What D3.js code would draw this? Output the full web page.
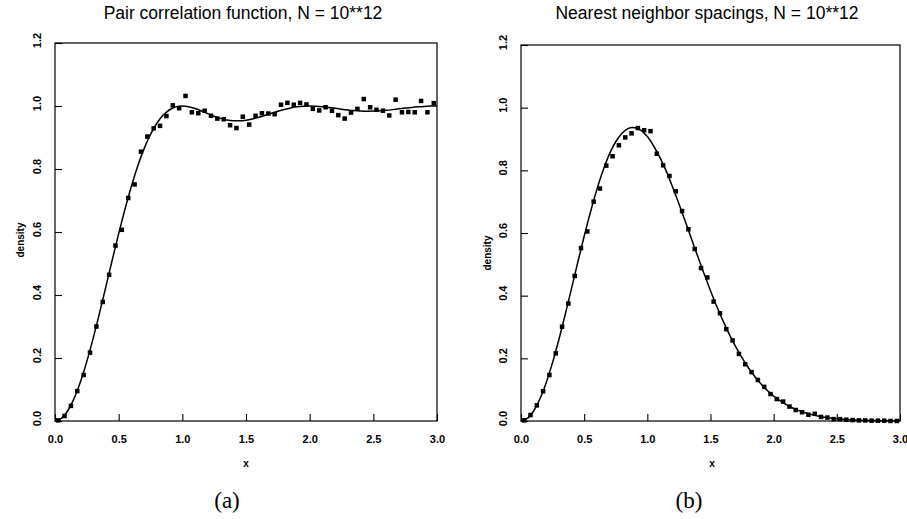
<!DOCTYPE html>
<html>
<head>
<meta charset="utf-8">
<script src="https://d3js.org/d3.v7.min.js"></script>
<style>
body { margin: 0; background: #fff; }
</style>
</head>
<body>
<svg id="chart" width="907" height="519"></svg>
<script>
// bin centres of the histograms (both panels)
const binX = [0.025,0.075,0.125,0.175,0.225,0.275,0.325,0.375,0.425,0.475,
  0.525,0.575,0.625,0.675,0.725,0.775,0.825,0.875,0.925,0.975,
  1.025,1.075,1.125,1.175,1.225,1.275,1.325,1.375,1.425,1.475,
  1.525,1.575,1.625,1.675,1.725,1.775,1.825,1.875,1.925,1.975,
  2.025,2.075,2.125,2.175,2.225,2.275,2.325,2.375,2.425,2.475,
  2.525,2.575,2.625,2.675,2.725,2.775,2.825,2.875,2.925,2.975];

// (a) pair correlation, empirical
const pairY = [0.002,0.016,0.048,0.095,0.146,0.217,0.300,0.378,0.464,0.557,
  0.607,0.708,0.751,0.855,0.903,0.929,0.937,0.968,1.002,0.993,
  1.032,0.980,0.977,0.985,0.969,0.960,0.958,0.939,0.930,0.966,
  0.941,0.969,0.977,0.976,0.974,1.004,1.010,1.004,1.010,1.005,
  0.991,0.986,0.996,0.985,0.971,0.960,0.979,0.991,1.022,0.996,
  0.988,0.985,0.970,1.020,0.980,0.981,0.980,1.016,0.980,1.009];

// (b) nearest neighbor spacings, empirical
const nnY = [0.002,0.019,0.050,0.095,0.147,0.216,0.301,0.375,0.463,0.552,
  0.605,0.700,0.742,0.815,0.845,0.880,0.905,0.918,0.935,0.928,
  0.925,0.853,0.816,0.782,0.733,0.670,0.612,0.549,0.488,0.458,
  0.381,0.344,0.293,0.257,0.214,0.181,0.156,0.131,0.109,0.086,
  0.070,0.062,0.046,0.035,0.028,0.020,0.023,0.013,0.011,0.006,
  0.006,0.004,0.003,0.002,0.002,0.001,0.001,0.001,0.000,0.000];

// x positions of the smooth curves
const curveX = [0,0.05,0.1,0.15,0.2,0.25,0.3,0.35,0.4,0.45,
  0.5,0.55,0.6,0.65,0.7,0.75,0.8,0.85,0.9,0.95,
  1.0,1.05,1.1,1.15,1.2,1.25,1.3,1.35,1.4,1.45,
  1.5,1.55,1.6,1.65,1.7,1.75,1.8,1.85,1.9,1.95,
  2.0,2.05,2.1,2.15,2.2,2.25,2.3,2.35,2.4,2.45,
  2.5,2.55,2.6,2.65,2.7,2.75,2.8,2.85,2.9,2.95,3.0];

const pairCurve = [0,0.0082,0.0325,0.0719,0.1249,0.1894,0.2632,0.3433,0.4272,0.5119,
  0.5947,0.6732,0.7454,0.8096,0.8647,0.9099,0.9453,0.9711,0.9881,0.9973,
  1.0,0.9978,0.9920,0.9842,0.9757,0.9676,0.9608,0.9559,0.9532,0.9530,
  0.9550,0.9589,0.9642,0.9705,0.9771,0.9835,0.9892,0.9939,0.9973,0.9993,
  1.0,0.9994,0.9978,0.9955,0.9928,0.9900,0.9875,0.9854,0.9841,0.9835,
  0.9838,0.9848,0.9864,0.9885,0.9909,0.9933,0.9955,0.9974,0.9988,0.9997,1.0];

const nnCurve = [0,0.0081,0.0320,0.0709,0.1232,0.1871,0.2602,0.3398,0.4233,0.5073,
  0.5896,0.6672,0.7382,0.8001,0.8516,0.8912,0.9185,0.9339,0.9361,0.9275,
  0.9077,0.8777,0.8405,0.7976,0.7465,0.6930,0.6372,0.5805,0.5240,0.4688,
  0.4158,0.3656,0.3188,0.2757,0.2364,0.2012,0.1698,0.1422,0.1181,0.0974,
  0.0797,0.0647,0.0521,0.0416,0.0331,0.0261,0.0204,0.0158,0.0122,0.0093,
  0.0071,0.0053,0.0040,0.0030,0.0022,0.0016,0.0012,0.0008,0.0006,0.0004,0.0003];

const xTicks = [0, 0.5, 1.0, 1.5, 2.0, 2.5, 3.0];
const yTicks = [0, 0.2, 0.4, 0.6, 0.8, 1.0, 1.2];

const sans = '"Liberation Sans", Arial, Helvetica, sans-serif';
const serif = '"Liberation Serif", "DejaVu Serif", serif';

const svg = d3.select('#chart');
svg.append('rect').attr('width', 907).attr('height', 519).attr('fill', '#fff');

function panel(p) {
  const xs = d3.scaleLinear().domain([0, 3]).range([p.left, p.right]);
  const ys = d3.scaleLinear().domain([0, 1.2]).range([p.bottom, p.top]);
  const g = svg.append('g');

  // x axis, ticks pointing inwards
  const xa = g.append('g')
    .attr('transform', `translate(0,${p.bottom})`)
    .call(d3.axisBottom(xs).tickValues(xTicks).tickSize(-7).tickPadding(14).tickFormat(d3.format('.1f')));
  xa.select('.domain').remove();
  xa.selectAll('text').style('font-size', '11px').style('font-weight', 'bold')
    .style('font-family', sans).attr('fill', '#000');
  xa.selectAll('line').attr('stroke', '#000').attr('stroke-width', 1.1);

  // y axis, rotated labels
  const ya = g.append('g')
    .attr('transform', `translate(${p.left},0)`)
    .call(d3.axisLeft(ys).tickValues(yTicks).tickSize(-7).tickFormat(d3.format('.1f')));
  ya.select('.domain').remove();
  ya.selectAll('line').attr('stroke', '#000').attr('stroke-width', 1.1);
  ya.selectAll('text')
    .attr('x', null).attr('dy', '0.35em')
    .attr('transform', 'translate(-18,-3) rotate(-90)')
    .attr('text-anchor', 'middle')
    .style('font-size', '11px').style('font-weight', 'bold')
    .style('font-family', sans).attr('fill', '#000');

  // frame
  g.append('rect')
    .attr('x', p.left).attr('y', p.top)
    .attr('width', p.right - p.left).attr('height', p.bottom - p.top)
    .attr('fill', 'none').attr('stroke', '#000').attr('stroke-width', 1.2);

  // smooth curve
  const line = d3.line()
    .x((d, i) => xs(curveX[i]))
    .y(d => ys(d))
    .curve(d3.curveCatmullRom);
  g.append('path')
    .attr('d', line(p.curve))
    .attr('fill', 'none').attr('stroke', '#000').attr('stroke-width', 1.5);

  // histogram points
  const s = 4.5;
  g.selectAll('rect.pt')
    .data(p.points)
    .join('rect')
    .attr('class', 'pt')
    .attr('x', (d, i) => xs(binX[i]) - s / 2)
    .attr('y', d => ys(d) - s / 2)
    .attr('width', s).attr('height', s)
    .attr('fill', '#000');

  // titles and labels
  g.append('text').attr('x', p.titleX).attr('y', 19)
    .attr('text-anchor', 'middle').style('font-size', '17.5px').style('font-family', sans)
    .attr('fill', '#000')
    .text(p.title);
  g.append('text').attr('x', p.xLabelX).attr('y', 467)
    .attr('text-anchor', 'middle').style('font-size', '10px').style('font-weight', 'bold')
    .style('font-family', sans)
    .text('x');
  g.append('text')
    .attr('transform', `translate(${p.densityX},${p.densityY}) rotate(-90)`)
    .attr('text-anchor', 'middle').attr('dy', '0.35em')
    .style('font-size', '10px').style('font-weight', 'bold').style('font-family', sans)
    .text('density');
  g.append('text').attr('x', p.capX).attr('y', 508)
    .attr('text-anchor', 'middle').style('font-size', '23px')
    .style('font-family', serif)
    .text(p.caption);
}

panel({
  left: 55, right: 437, top: 43, bottom: 421,
  title: 'Pair correlation function, N = 10**12', titleX: 243,
  xLabelX: 246, densityX: 20, densityY: 240, capX: 227, caption: '(a)',
  points: pairY, curve: pairCurve
});

panel({
  left: 521, right: 900, top: 45, bottom: 421,
  title: 'Nearest neighbor spacings, N = 10**12', titleX: 707,
  xLabelX: 712, densityX: 487, densityY: 253, capX: 689, caption: '(b)',
  points: nnY, curve: nnCurve
});
</script>
</body>
</html>
